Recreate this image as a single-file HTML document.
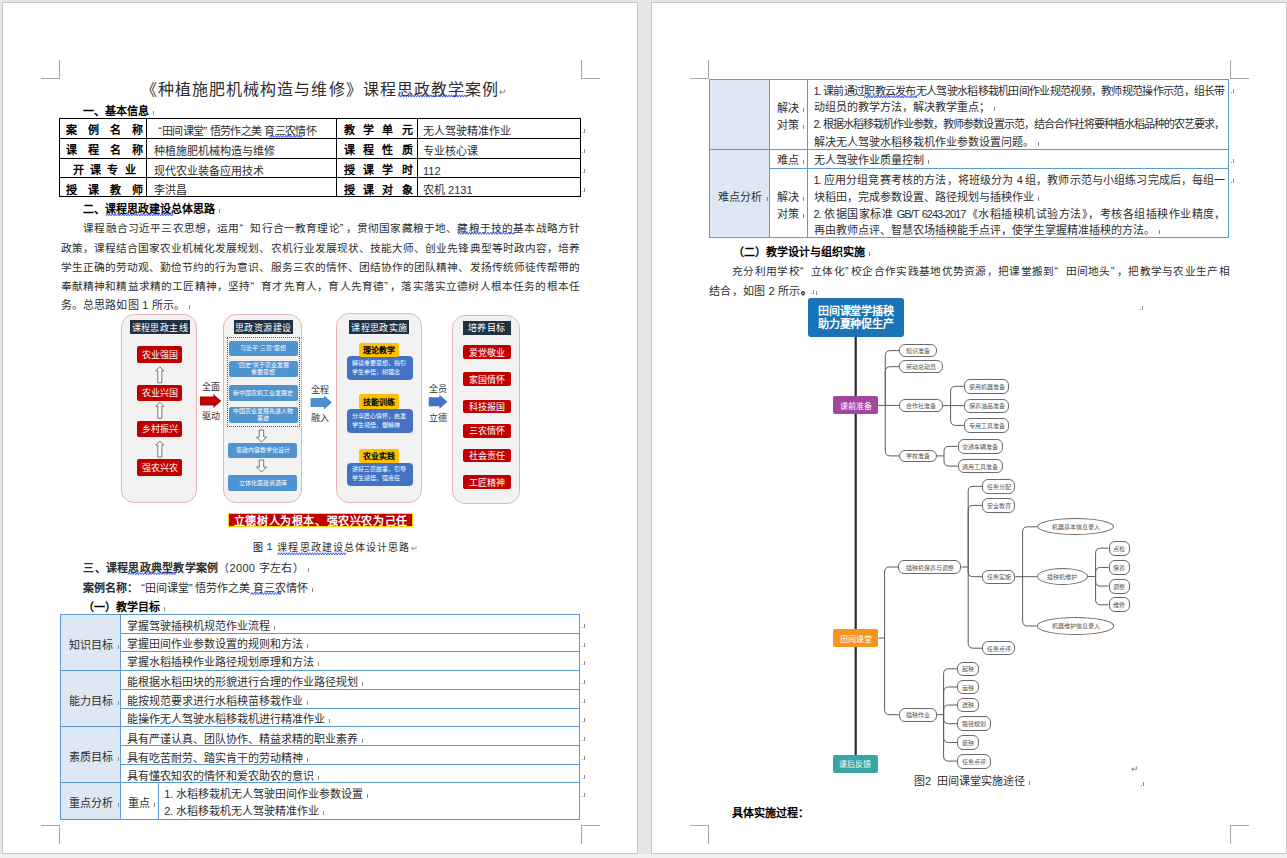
<!DOCTYPE html><html lang="zh-CN"><head><meta charset="utf-8"><style>
html,body{margin:0;padding:0;}
body{width:1287px;height:858px;overflow:hidden;position:relative;background:#e6e6e6;font-family:"Liberation Sans",sans-serif;}
div{box-sizing:border-box;}
.t{position:absolute;white-space:nowrap;}
.pm{display:inline-block;width:3px;height:4px;border-right:1px solid #8c8c8c;margin-left:1px;vertical-align:baseline;}
.qo,.qc{display:inline-block;width:1em;text-indent:0;letter-spacing:0;}
.qo{text-align:right;}
.qc{text-align:left;width:0.55em;}
</style></head><body>
<div style="position:absolute;left:0px;top:854px;width:1287px;height:4px;background:#f0f0f0"></div>
<div style="position:absolute;left:2px;top:2px;width:636px;height:852px;background:#fff;border:1px solid #c6c6c6"></div>
<div style="position:absolute;left:651px;top:2px;width:636px;height:852px;background:#fff;border:1px solid #c6c6c6"></div>
<div style="position:absolute;left:59px;top:60px;width:1px;height:19px;background:#a6a6a6"></div>
<div style="position:absolute;left:41px;top:78px;width:19px;height:1px;background:#a6a6a6"></div>
<div style="position:absolute;left:59px;top:825px;width:1px;height:19px;background:#a6a6a6"></div>
<div style="position:absolute;left:41px;top:825px;width:19px;height:1px;background:#a6a6a6"></div>
<div style="position:absolute;left:581px;top:60px;width:1px;height:19px;background:#a6a6a6"></div>
<div style="position:absolute;left:581px;top:78px;width:19px;height:1px;background:#a6a6a6"></div>
<div style="position:absolute;left:581px;top:825px;width:1px;height:19px;background:#a6a6a6"></div>
<div style="position:absolute;left:581px;top:825px;width:19px;height:1px;background:#a6a6a6"></div>
<div style="position:absolute;left:708px;top:60px;width:1px;height:19px;background:#a6a6a6"></div>
<div style="position:absolute;left:690px;top:78px;width:19px;height:1px;background:#a6a6a6"></div>
<div style="position:absolute;left:708px;top:825px;width:1px;height:19px;background:#a6a6a6"></div>
<div style="position:absolute;left:690px;top:825px;width:19px;height:1px;background:#a6a6a6"></div>
<div style="position:absolute;left:1230px;top:60px;width:1px;height:19px;background:#a6a6a6"></div>
<div style="position:absolute;left:1230px;top:78px;width:19px;height:1px;background:#a6a6a6"></div>
<div style="position:absolute;left:1230px;top:825px;width:1px;height:19px;background:#a6a6a6"></div>
<div style="position:absolute;left:1230px;top:825px;width:19px;height:1px;background:#a6a6a6"></div>
<div class="t " style="left:141px;top:79.7px;font-size:16px;line-height:20px;color:#2e2e2e;letter-spacing:1.05px;">《种植施肥机械构造与维修》课程思政教学案例<span style='font-size:9px;color:#777;letter-spacing:0'>↵</span></div>
<div class="t " style="left:83px;top:103.5px;font-size:11px;line-height:15px;color:#000;font-weight:bold;">一、基本信息<i class="pm"></i></div>
<div style="position:absolute;left:59px;top:118px;width:522px;height:1px;background:#000"></div>
<div style="position:absolute;left:59px;top:138px;width:522px;height:1px;background:#000"></div>
<div style="position:absolute;left:59px;top:158px;width:522px;height:1px;background:#000"></div>
<div style="position:absolute;left:59px;top:177px;width:522px;height:1px;background:#000"></div>
<div style="position:absolute;left:59px;top:196px;width:522px;height:1px;background:#000"></div>
<div style="position:absolute;left:59px;top:118px;width:1px;height:79px;background:#000"></div>
<div style="position:absolute;left:146px;top:118px;width:1px;height:79px;background:#000"></div>
<div style="position:absolute;left:336px;top:118px;width:1px;height:79px;background:#000"></div>
<div style="position:absolute;left:417px;top:118px;width:1px;height:79px;background:#000"></div>
<div style="position:absolute;left:580px;top:118px;width:1px;height:79px;background:#000"></div>
<div class="t " style="left:66px;top:123.1px;font-size:11px;line-height:15px;color:#000;font-weight:bold;width:77px;text-align:justify;text-align-last:justify;">案例名称</div>
<div class="t " style="left:151px;top:123.7px;font-size:11px;line-height:15px;color:#2e2e2e;letter-spacing:-0.6px;"><span class="qo">“</span>田间课堂<span class="qc">”</span>悟劳作之美 育三农情怀</div>
<div class="t " style="left:343.5px;top:123.1px;font-size:11px;line-height:15px;color:#000;font-weight:bold;width:69px;text-align:justify;text-align-last:justify;">教学单元</div>
<div class="t " style="left:423px;top:123.7px;font-size:11px;line-height:15px;color:#2e2e2e;">无人驾驶精准作业</div>
<div class="t " style="left:66px;top:143.4px;font-size:11px;line-height:15px;color:#000;font-weight:bold;width:77px;text-align:justify;text-align-last:justify;">课程名称</div>
<div class="t " style="left:153.5px;top:144.0px;font-size:11px;line-height:15px;color:#2e2e2e;">种植施肥机械构造与维修</div>
<div class="t " style="left:343.5px;top:143.4px;font-size:11px;line-height:15px;color:#000;font-weight:bold;width:69px;text-align:justify;text-align-last:justify;">课程性质</div>
<div class="t " style="left:423px;top:144.0px;font-size:11px;line-height:15px;color:#2e2e2e;">专业核心课</div>
<div class="t " style="left:72.6px;top:163.2px;font-size:11px;line-height:15px;color:#000;font-weight:bold;width:63px;text-align:justify;text-align-last:justify;">开课专业</div>
<div class="t " style="left:153.5px;top:163.8px;font-size:11px;line-height:15px;color:#2e2e2e;">现代农业装备应用技术</div>
<div class="t " style="left:343.5px;top:163.2px;font-size:11px;line-height:15px;color:#000;font-weight:bold;width:69px;text-align:justify;text-align-last:justify;">授课学时</div>
<div class="t " style="left:423px;top:163.8px;font-size:11px;line-height:15px;color:#2e2e2e;">112</div>
<div class="t " style="left:66px;top:182.5px;font-size:11px;line-height:15px;color:#000;font-weight:bold;width:77px;text-align:justify;text-align-last:justify;">授课教师</div>
<div class="t " style="left:153.5px;top:183.1px;font-size:11px;line-height:15px;color:#2e2e2e;">李洪昌</div>
<div class="t " style="left:343.5px;top:182.5px;font-size:11px;line-height:15px;color:#000;font-weight:bold;width:69px;text-align:justify;text-align-last:justify;">授课对象</div>
<div class="t " style="left:423px;top:183.1px;font-size:11px;line-height:15px;color:#2e2e2e;">农机 2131</div>
<div class="t " style="left:83.3px;top:202.0px;font-size:11px;line-height:15px;color:#000;font-weight:bold;">二、课程思政建设总体思路<i class="pm"></i></div>
<div class="t " style="left:83.3px;top:220.7px;font-size:10.7px;line-height:14.7px;color:#2e2e2e;width:496.7px;text-align:justify;text-align-last:justify;">课程融合习近平三农思想，运用<span class="qo">“</span>知行合一教育理论<span class="qc">”</span>，贯彻国家藏粮于地、藏粮于技的基本战略方针</div>
<div class="t " style="left:60.5px;top:240.7px;font-size:10.7px;line-height:14.7px;color:#2e2e2e;width:519.5px;text-align:justify;text-align-last:justify;">政策，课程结合国家农业机械化发展规划、农机行业发展现状、技能大师、创业先锋典型等时政内容，培养</div>
<div class="t " style="left:60.5px;top:259.6px;font-size:10.7px;line-height:14.7px;color:#2e2e2e;width:519.5px;text-align:justify;text-align-last:justify;">学生正确的劳动观、勤俭节约的行为意识、服务三农的情怀、团结协作的团队精神、发扬传统师徒传帮带的</div>
<div class="t " style="left:60.5px;top:278.6px;font-size:10.7px;line-height:14.7px;color:#2e2e2e;width:519.5px;text-align:justify;text-align-last:justify;">奉献精神和精益求精的工匠精神，坚持<span class="qo">“</span>育才先育人，育人先育德<span class="qc">”</span>，落实落实立德树人根本任务的根本任</div>
<div class="t " style="left:60.5px;top:298.2px;font-size:11px;line-height:15px;color:#2e2e2e;letter-spacing:0.2px;">务。总思路如图 1 所示。<i class="pm"></i></div>
<div class="t " style="left:253px;top:541.0px;font-size:10px;line-height:14px;color:#2e2e2e;color:#111">图</div>
<div class="t " style="left:266.5px;top:541.0px;font-size:10px;line-height:14px;color:#2e2e2e;font-family:'Liberation Mono',monospace;">1</div>
<div class="t " style="left:277.4px;top:541.0px;font-size:10px;line-height:14px;color:#2e2e2e;letter-spacing:1.1px;">课程思政建设总体设计思路<span style='font-size:8px;color:#777;letter-spacing:0'>↵</span></div>
<div class="t " style="left:83.3px;top:561.1px;font-size:11px;line-height:15px;color:#2e2e2e;"><b style="letter-spacing:0.25px">三、课程思政典型教学案例</b><span style="letter-spacing:0.3px">（2000 字左右）</span><i class="pm"></i></div>
<div class="t " style="left:83px;top:580.8px;font-size:11px;line-height:15px;color:#2e2e2e;"><b>案例名称<span style="letter-spacing:-4px">：</span></b><span class="qo">“</span>田间课堂<span class="qc">”</span>悟劳作之美 育三农情怀<i class="pm"></i></div>
<div class="t " style="left:83px;top:600.0px;font-size:11px;line-height:15px;color:#000;font-weight:bold;">（一）教学目标<i class="pm"></i></div>
<div style="position:absolute;left:60px;top:614px;width:60px;height:205px;background:#dde8f4"></div>
<div style="position:absolute;left:60px;top:614px;width:520px;height:1px;background:#5b9bd5"></div>
<div style="position:absolute;left:60px;top:670px;width:520px;height:1px;background:#5b9bd5"></div>
<div style="position:absolute;left:60px;top:726px;width:520px;height:1px;background:#5b9bd5"></div>
<div style="position:absolute;left:60px;top:782px;width:520px;height:1px;background:#5b9bd5"></div>
<div style="position:absolute;left:60px;top:819px;width:520px;height:1px;background:#5b9bd5"></div>
<div style="position:absolute;left:120px;top:633px;width:460px;height:1px;background:#5b9bd5"></div>
<div style="position:absolute;left:120px;top:651px;width:460px;height:1px;background:#5b9bd5"></div>
<div style="position:absolute;left:120px;top:689px;width:460px;height:1px;background:#5b9bd5"></div>
<div style="position:absolute;left:120px;top:708px;width:460px;height:1px;background:#5b9bd5"></div>
<div style="position:absolute;left:120px;top:745px;width:460px;height:1px;background:#5b9bd5"></div>
<div style="position:absolute;left:120px;top:764px;width:460px;height:1px;background:#5b9bd5"></div>
<div style="position:absolute;left:60px;top:614px;width:1px;height:206px;background:#5b9bd5"></div>
<div style="position:absolute;left:120px;top:614px;width:1px;height:206px;background:#5b9bd5"></div>
<div style="position:absolute;left:579px;top:614px;width:1px;height:206px;background:#5b9bd5"></div>
<div style="position:absolute;left:158px;top:782px;width:1px;height:38px;background:#5b9bd5"></div>
<div class="t " style="left:68.6px;top:637.9px;font-size:11px;line-height:15px;color:#2e2e2e;width:44.5px;text-align:justify;text-align-last:justify;">知识目标</div>
<div class="t " style="left:114px;top:637.9px;font-size:11px;line-height:15px;color:#2e2e2e;"><i class="pm"></i></div>
<div class="t " style="left:68.6px;top:693.9px;font-size:11px;line-height:15px;color:#2e2e2e;width:44.5px;text-align:justify;text-align-last:justify;">能力目标</div>
<div class="t " style="left:114px;top:693.9px;font-size:11px;line-height:15px;color:#2e2e2e;"><i class="pm"></i></div>
<div class="t " style="left:68.6px;top:750.1px;font-size:11px;line-height:15px;color:#2e2e2e;width:44.5px;text-align:justify;text-align-last:justify;">素质目标</div>
<div class="t " style="left:114px;top:750.1px;font-size:11px;line-height:15px;color:#2e2e2e;"><i class="pm"></i></div>
<div class="t " style="left:68.6px;top:796.3px;font-size:11px;line-height:15px;color:#2e2e2e;width:44.5px;text-align:justify;text-align-last:justify;">重点分析</div>
<div class="t " style="left:114px;top:796.3px;font-size:11px;line-height:15px;color:#2e2e2e;"><i class="pm"></i></div>
<div class="t " style="left:127px;top:618.6px;font-size:11px;line-height:15px;color:#2e2e2e;">掌握驾驶插秧机规范作业流程<i class="pm"></i></div>
<div class="t " style="left:127px;top:637.2px;font-size:11px;line-height:15px;color:#2e2e2e;">掌握田间作业参数设置的规则和方法<i class="pm"></i></div>
<div class="t " style="left:127px;top:655.2px;font-size:11px;line-height:15px;color:#2e2e2e;">掌握水稻插秧作业路径规划原理和方法<i class="pm"></i></div>
<div class="t " style="left:127px;top:674.5px;font-size:11px;line-height:15px;color:#2e2e2e;">能根据水稻田块的形貌进行合理的作业路径规划<i class="pm"></i></div>
<div class="t " style="left:127px;top:693.7px;font-size:11px;line-height:15px;color:#2e2e2e;">能按规范要求进行水稻秧苗移栽作业<i class="pm"></i></div>
<div class="t " style="left:127px;top:712.3px;font-size:11px;line-height:15px;color:#2e2e2e;">能操作无人驾驶水稻移栽机进行精准作业<i class="pm"></i></div>
<div class="t " style="left:127px;top:731.5px;font-size:11px;line-height:15px;color:#2e2e2e;">具有严谨认真、团队协作、精益求精的职业素养<i class="pm"></i></div>
<div class="t " style="left:127px;top:750.5px;font-size:11px;line-height:15px;color:#2e2e2e;">具有吃苦耐劳、踏实肯干的劳动精神<i class="pm"></i></div>
<div class="t " style="left:127px;top:769.2px;font-size:11px;line-height:15px;color:#2e2e2e;">具有懂农知农的情怀和爱农助农的意识<i class="pm"></i></div>
<div class="t " style="left:128px;top:796.3px;font-size:11px;line-height:15px;color:#2e2e2e;">重点<i class="pm"></i></div>
<div class="t " style="left:164.2px;top:787.4px;font-size:11px;line-height:15px;color:#2e2e2e;">1. 水稻移栽机无人驾驶田间作业参数设置<i class="pm"></i></div>
<div class="t " style="left:164.2px;top:803.7px;font-size:11px;line-height:15px;color:#2e2e2e;">2. 水稻移栽机无人驾驶精准作业<i class="pm"></i></div>
<div style="position:absolute;left:709px;top:79px;width:61px;height:159px;background:#dde8f4"></div>
<div style="position:absolute;left:709px;top:79px;width:520px;height:1px;background:#5b9bd5"></div>
<div style="position:absolute;left:709px;top:149px;width:520px;height:1px;background:#5b9bd5"></div>
<div style="position:absolute;left:770px;top:168px;width:459px;height:1px;background:#5b9bd5"></div>
<div style="position:absolute;left:709px;top:237px;width:520px;height:1px;background:#5b9bd5"></div>
<div style="position:absolute;left:709px;top:79px;width:1px;height:159px;background:#5b9bd5"></div>
<div style="position:absolute;left:769px;top:79px;width:1px;height:159px;background:#5b9bd5"></div>
<div style="position:absolute;left:807px;top:79px;width:1px;height:159px;background:#5b9bd5"></div>
<div style="position:absolute;left:1228px;top:79px;width:1px;height:159px;background:#5b9bd5"></div>
<div class="t " style="left:777px;top:101.0px;font-size:11px;line-height:15px;color:#2e2e2e;">解决<i class="pm"></i></div>
<div class="t " style="left:777px;top:118.0px;font-size:11px;line-height:15px;color:#2e2e2e;">对策<i class="pm"></i></div>
<div class="t " style="left:777px;top:153.4px;font-size:11px;line-height:15px;color:#2e2e2e;">难点<i class="pm"></i></div>
<div class="t " style="left:777px;top:190.0px;font-size:11px;line-height:15px;color:#2e2e2e;">解决<i class="pm"></i></div>
<div class="t " style="left:777px;top:206.5px;font-size:11px;line-height:15px;color:#2e2e2e;">对策<i class="pm"></i></div>
<div class="t " style="left:718.2px;top:189.5px;font-size:11px;line-height:15px;color:#2e2e2e;width:43.6px;text-align:justify;text-align-last:justify;">难点分析</div>
<div class="t " style="left:763px;top:189.5px;font-size:11px;line-height:15px;color:#2e2e2e;"><i class="pm"></i></div>
<div class="t " style="left:813.5px;top:83.9px;font-size:11px;line-height:15px;color:#2e2e2e;width:411px;text-align:justify;text-align-last:justify;letter-spacing:-1px;">1. 课前通过职教云发布无人驾驶水稻移栽机田间作业规范视频，教师规范操作示范，组长带</div>
<div class="t " style="left:813.5px;top:100.3px;font-size:11px;line-height:15px;color:#2e2e2e;">动组员的教学方法，解决教学重点；<i class="pm"></i></div>
<div class="t " style="left:813.5px;top:117.3px;font-size:11px;line-height:15px;color:#2e2e2e;width:411px;text-align:justify;text-align-last:justify;letter-spacing:-1px;">2. 根据水稻移栽机作业参数，教师参数设置示范，结合合作社将要种植水稻品种的农艺要求，</div>
<div class="t " style="left:813.5px;top:134.8px;font-size:11px;line-height:15px;color:#2e2e2e;">解决无人驾驶水稻移栽机作业参数设置问题。<i class="pm"></i></div>
<div class="t " style="left:813.5px;top:153.4px;font-size:11px;line-height:15px;color:#2e2e2e;">无人驾驶作业质量控制<i class="pm"></i></div>
<div class="t " style="left:813.5px;top:173.2px;font-size:11px;line-height:15px;color:#2e2e2e;width:411px;text-align:justify;text-align-last:justify;letter-spacing:-1px;">1. 应用分组竞赛考核的方法，将班级分为 4 组，教师示范与小组练习完成后，每组一</div>
<div class="t " style="left:813.5px;top:189.5px;font-size:11px;line-height:15px;color:#2e2e2e;">块稻田，完成参数设置、路径规划与插秧作业<i class="pm"></i></div>
<div class="t " style="left:813.5px;top:206.5px;font-size:11px;line-height:15px;color:#2e2e2e;width:411px;text-align:justify;text-align-last:justify;letter-spacing:-1px;">2. 依据国家标准 GB/T 6243-2017《水稻插秧机试验方法》，考核各组插秧作业精度，</div>
<div class="t " style="left:813.5px;top:223.3px;font-size:11px;line-height:15px;color:#2e2e2e;">再由教师点评、智慧农场插秧能手点评，使学生掌握精准插秧的方法。<i class="pm"></i></div>
<div class="t " style="left:733px;top:245.0px;font-size:11px;line-height:15px;color:#000;font-weight:bold;">（二）教学设计与组织实施<i class="pm"></i></div>
<div class="t " style="left:732.2px;top:264.4px;font-size:10.7px;line-height:14.7px;color:#2e2e2e;width:497.5px;text-align:justify;text-align-last:justify;">充分利用学校<span class="qo">“</span>立体化<span class="qc">”</span>校企合作实践基地优势资源，把课堂搬到<span class="qo">“</span>田间地头<span class="qc">”</span>，把教学与农业生产相</div>
<div class="t " style="left:709.3px;top:283.5px;font-size:11px;line-height:15px;color:#2e2e2e;letter-spacing:0.2px;">结合，如图 2 所示。<i class="pm"></i></div>
<div class="t " style="left:914px;top:773.7px;font-size:11px;line-height:15px;color:#2e2e2e;">图2 &nbsp;田间课堂实施途径<i class="pm"></i></div>
<div class="t " style="left:732px;top:805.5px;font-size:11px;line-height:15px;color:#000;font-weight:bold;">具体实施过程：</div>
<div style="position:absolute;left:121px;top:313.7px;width:76px;height:189.60000000000002px;background:#f2f2f2;border-radius:13px;border:1px solid #e9b4b4;display:flex;align-items:center;justify-content:center;text-align:center;font-size:8px;color:#fff;"></div>
<div style="position:absolute;left:223px;top:313.7px;width:79px;height:189.60000000000002px;background:#f2f2f2;border-radius:13px;border:1px solid #e9b4b4;display:flex;align-items:center;justify-content:center;text-align:center;font-size:8px;color:#fff;"></div>
<div style="position:absolute;left:336.4px;top:313px;width:85.90000000000003px;height:189.8px;background:#f2f2f2;border-radius:13px;border:1px solid #e9b4b4;display:flex;align-items:center;justify-content:center;text-align:center;font-size:8px;color:#fff;"></div>
<div style="position:absolute;left:452.3px;top:315px;width:67.40000000000003px;height:188.60000000000002px;background:#f2f2f2;border-radius:13px;border:1px solid #e9b4b4;display:flex;align-items:center;justify-content:center;text-align:center;font-size:8px;color:#fff;"></div>
<div style="position:absolute;left:129.6px;top:320.3px;width:60.400000000000006px;height:13.699999999999989px;background:#1f3142;border-radius:0px;display:flex;align-items:center;justify-content:center;text-align:center;font-size:9px;color:#fff;white-space:nowrap;letter-spacing:0.4px;">课程思政主线</div>
<div style="position:absolute;left:233.6px;top:320.3px;width:59.400000000000006px;height:13.699999999999989px;background:#1f3142;border-radius:0px;display:flex;align-items:center;justify-content:center;text-align:center;font-size:9px;color:#fff;white-space:nowrap;letter-spacing:0.4px;">思政资源建设</div>
<div style="position:absolute;left:349.2px;top:320.3px;width:60.30000000000001px;height:14.099999999999966px;background:#1f3142;border-radius:0px;display:flex;align-items:center;justify-content:center;text-align:center;font-size:9px;color:#fff;white-space:nowrap;letter-spacing:0.4px;">课程思政实施</div>
<div style="position:absolute;left:462.6px;top:320.8px;width:48.19999999999999px;height:13.800000000000011px;background:#1f3142;border-radius:0px;display:flex;align-items:center;justify-content:center;text-align:center;font-size:9px;color:#fff;white-space:nowrap;letter-spacing:0.4px;">培养目标</div>
<div style="position:absolute;left:137.4px;top:346.2px;width:44.79999999999998px;height:16.400000000000034px;background:#c00000;border-radius:2px;display:flex;align-items:center;justify-content:center;text-align:center;font-size:9px;color:#fff;">农业强国</div>
<div style="position:absolute;left:137.4px;top:384.6px;width:44.79999999999998px;height:16.399999999999977px;background:#c00000;border-radius:2px;display:flex;align-items:center;justify-content:center;text-align:center;font-size:9px;color:#fff;">农业兴国</div>
<div style="position:absolute;left:137.4px;top:420.6px;width:44.79999999999998px;height:16.099999999999966px;background:#c00000;border-radius:2px;display:flex;align-items:center;justify-content:center;text-align:center;font-size:9px;color:#fff;">乡村振兴</div>
<div style="position:absolute;left:137.4px;top:459.3px;width:44.79999999999998px;height:16.599999999999966px;background:#c00000;border-radius:2px;display:flex;align-items:center;justify-content:center;text-align:center;font-size:9px;color:#fff;">强农兴农</div>
<div style="position:absolute;left:462.6px;top:345.4px;width:48.19999999999999px;height:13.300000000000011px;background:#c00000;border-radius:2px;display:flex;align-items:center;justify-content:center;text-align:center;font-size:9px;color:#fff;">爱党敬业</div>
<div style="position:absolute;left:462.6px;top:372.3px;width:48.19999999999999px;height:13.899999999999977px;background:#c00000;border-radius:2px;display:flex;align-items:center;justify-content:center;text-align:center;font-size:9px;color:#fff;">家国情怀</div>
<div style="position:absolute;left:462.6px;top:399.7px;width:48.19999999999999px;height:13.300000000000011px;background:#c00000;border-radius:2px;display:flex;align-items:center;justify-content:center;text-align:center;font-size:9px;color:#fff;">科技报国</div>
<div style="position:absolute;left:462.6px;top:424px;width:48.19999999999999px;height:13.699999999999989px;background:#c00000;border-radius:2px;display:flex;align-items:center;justify-content:center;text-align:center;font-size:9px;color:#fff;">三农情怀</div>
<div style="position:absolute;left:462.6px;top:448.5px;width:48.19999999999999px;height:13.300000000000011px;background:#c00000;border-radius:2px;display:flex;align-items:center;justify-content:center;text-align:center;font-size:9px;color:#fff;">社会责任</div>
<div style="position:absolute;left:462.6px;top:475.4px;width:48.19999999999999px;height:13.600000000000023px;background:#c00000;border-radius:2px;display:flex;align-items:center;justify-content:center;text-align:center;font-size:9px;color:#fff;">工匠精神</div>
<div style="position:absolute;left:227px;top:337.4px;width:73px;height:90px;border:1px dotted #555"></div>
<div style="position:absolute;left:228.7px;top:340.6px;width:69.19999999999999px;height:15.199999999999989px;background:#4f93cf;border-radius:2px;display:flex;align-items:center;justify-content:center;text-align:center;font-size:6px;color:#fff;line-height:7px;">习近平“三农”思想</div>
<div style="position:absolute;left:228.7px;top:360.9px;width:69.19999999999999px;height:15.700000000000045px;background:#4f93cf;border-radius:2px;display:flex;align-items:center;justify-content:center;text-align:center;font-size:6px;color:#fff;line-height:7px;">“四史”关于农业发展<br>重要思想</div>
<div style="position:absolute;left:228.7px;top:385.1px;width:69.19999999999999px;height:15.899999999999977px;background:#4f93cf;border-radius:2px;display:flex;align-items:center;justify-content:center;text-align:center;font-size:6px;color:#fff;line-height:7px;">新中国农机工业发展史</div>
<div style="position:absolute;left:228.7px;top:407.4px;width:69.19999999999999px;height:15.600000000000023px;background:#4f93cf;border-radius:2px;display:flex;align-items:center;justify-content:center;text-align:center;font-size:6px;color:#fff;line-height:7px;">中国农业发展先进人物<br>事迹</div>
<div style="position:absolute;left:228px;top:443.4px;width:69.19999999999999px;height:15.100000000000023px;background:#4f93cf;border-radius:2px;display:flex;align-items:center;justify-content:center;text-align:center;font-size:6px;color:#fff;line-height:7px;">思政内容教学化设计</div>
<div style="position:absolute;left:228px;top:475.2px;width:69.19999999999999px;height:15.800000000000011px;background:#4f93cf;border-radius:2px;display:flex;align-items:center;justify-content:center;text-align:center;font-size:6px;color:#fff;line-height:7px;">立体化思政资源库</div>
<div style="position:absolute;left:347.4px;top:356.2px;width:65.90000000000003px;height:23.5px;background:#4472c4;border-radius:4px;display:flex;align-items:center;justify-content:center;text-align:center;font-size:6px;color:#fff;line-height:9px;justify-content:flex-start;text-align:left;padding-left:5px;">解读重要思想，指引<br>学生参悟，树理念</div>
<div style="position:absolute;left:359px;top:342.8px;width:39.60000000000002px;height:13.899999999999977px;background:#ffc000;border-radius:2px;display:flex;align-items:center;justify-content:center;text-align:center;font-size:8px;color:#000;font-weight:bold;">理论教学</div>
<div style="position:absolute;left:347.4px;top:408.7px;width:65.90000000000003px;height:23.900000000000034px;background:#4472c4;border-radius:4px;display:flex;align-items:center;justify-content:center;text-align:center;font-size:6px;color:#fff;line-height:9px;justify-content:flex-start;text-align:left;padding-left:5px;">分享匠心情怀，启发<br>学生领悟，塑精神</div>
<div style="position:absolute;left:359px;top:394px;width:39.60000000000002px;height:14.5px;background:#ffc000;border-radius:2px;display:flex;align-items:center;justify-content:center;text-align:center;font-size:8px;color:#000;font-weight:bold;">技能训练</div>
<div style="position:absolute;left:347.4px;top:462.6px;width:65.90000000000003px;height:23.799999999999955px;background:#4472c4;border-radius:4px;display:flex;align-items:center;justify-content:center;text-align:center;font-size:6px;color:#fff;line-height:9px;justify-content:flex-start;text-align:left;padding-left:5px;">讲好三农故事，引导<br>学生感悟，强责任</div>
<div style="position:absolute;left:359px;top:448.5px;width:39.60000000000002px;height:14.300000000000011px;background:#ffc000;border-radius:2px;display:flex;align-items:center;justify-content:center;text-align:center;font-size:8px;color:#000;font-weight:bold;">农业实践</div>
<div class="t " style="left:201.7px;top:381.0px;font-size:9px;line-height:12px;color:#2e2e2e;">全面</div>
<div class="t " style="left:201.7px;top:409.7px;font-size:9px;line-height:12px;color:#2e2e2e;">驱动</div>
<div class="t " style="left:311px;top:383.5px;font-size:9px;line-height:12px;color:#2e2e2e;">全程</div>
<div class="t " style="left:311px;top:411.7px;font-size:9px;line-height:12px;color:#2e2e2e;">融入</div>
<div class="t " style="left:428.7px;top:383.0px;font-size:9px;line-height:12px;color:#2e2e2e;">全员</div>
<div class="t " style="left:428.7px;top:411.7px;font-size:9px;line-height:12px;color:#2e2e2e;">立德</div>
<svg style="position:absolute;left:0;top:0" width="1287" height="858">
<path d="M200,396.5 H213.3 V394.0 L221.3,401 L213.3,408.0 V405.5 H200 Z" fill="#c00000"/>
<path d="M310.6,398.0 H324 V395.5 L332,402.5 L324,409.5 V407.0 H310.6 Z" fill="#4a90d0"/>
<path d="M428.7,397.3 H439.4 V394.8 L447.4,401.8 L439.4,408.8 V406.3 H428.7 Z" fill="#4472c4"/>
<path d="M159.8,366.8 L163.8,370.8 H161.8 V382.8 H157.8 V370.8 H155.8 Z" fill="#fff" stroke="#555" stroke-width="0.8"/>
<path d="M159.8,402.3 L163.8,406.3 H161.8 V418.3 H157.8 V406.3 H155.8 Z" fill="#fff" stroke="#555" stroke-width="0.8"/>
<path d="M159.8,441.0 L163.8,445.0 H161.8 V457.0 H157.8 V445.0 H155.8 Z" fill="#fff" stroke="#555" stroke-width="0.8"/>
<path d="M261.5,442.0 L266.5,437.0 H263.7 V430.0 H259.3 V437.0 H256.5 Z" fill="#fff" stroke="#555" stroke-width="0.8"/>
<path d="M261.5,472.0 L266.5,467.0 H263.7 V460.0 H259.3 V467.0 H256.5 Z" fill="#fff" stroke="#555" stroke-width="0.8"/>
</svg>
<div style="position:absolute;left:228.3px;top:512.8px;width:185.09999999999997px;height:14.600000000000023px;background:#c00000;border-radius:0px;border:1px solid #ffd800;display:flex;align-items:center;justify-content:center;text-align:center;font-size:11px;color:#fff;font-weight:bold;letter-spacing:0.6px;white-space:nowrap;">立德树人为根本、强农兴农为己任</div>
<svg style="position:absolute;left:0;top:0" width="1287" height="858">
<g fill="none" stroke="#5a5a5a" stroke-width="1">
<path d="M878,405.4 H885.3 M885.3,405.4 V355.6 Q885.3,350.6 890.3,350.6 H899 M885.3,405.4 V371.7 Q885.3,366.7 890.3,366.7 H899 M885.3,405.4 H899 M885.3,405.4 V450.9 Q885.3,455.9 890.3,455.9 H899 "/>
<path d="M942.9,405.6 H950.6 M950.6,405.6 V391.3 Q950.6,386.3 955.6,386.3 H963.9 M950.6,405.6 H963.9 M950.6,405.6 V420.4 Q950.6,425.4 955.6,425.4 H963.9 "/>
<path d="M936.9,455.9 H944 M944,455.9 V451.3 Q944,446.3 949,446.3 H957.7 M944,455.9 V461.1 Q944,466.1 949,466.1 H957.7 "/>
<path d="M878.5,638 H884.6 M884.6,638 V572 Q884.6,567 889.6,567 H898.2 M884.6,638 V709.7 Q884.6,714.7 889.6,714.7 H898.7 "/>
<path d="M961.5,567 H968.2 M968.2,567 V491.3 Q968.2,486.3 973.2,486.3 H982.3 M968.2,567 V510.4 Q968.2,505.4 973.2,505.4 H982.3 M968.2,567 V571.7 Q968.2,576.7 973.2,576.7 H982.3 M968.2,567 V643.2 Q968.2,648.2 973.2,648.2 H982.3 "/>
<path d="M1015.4,576.7 H1022.6 M1022.6,576.7 V531.8 Q1022.6,526.8 1027.6,526.8 H1036.7 M1022.6,576.7 H1036.7 M1022.6,576.7 V621 Q1022.6,626 1027.6,626 H1036.7 "/>
<path d="M1088,576.5 H1095.6 M1095.6,576.5 V553.2 Q1095.6,548.2 1100.6,548.2 H1108.5 M1095.6,576.5 V572.4 Q1095.6,567.4 1100.6,567.4 H1108.5 M1095.6,576.5 V581.1 Q1095.6,586.1 1100.6,586.1 H1108.5 M1095.6,576.5 V599.8 Q1095.6,604.8 1100.6,604.8 H1108.5 "/>
<path d="M937.2,714.7 H943.6 M943.6,714.7 V673.8 Q943.6,668.8 948.6,668.8 H957.2 M943.6,714.7 V692 Q943.6,687 948.6,687 H957.2 M943.6,714.7 V710 Q943.6,705 948.6,705 H957.2 M943.6,714.7 V718.7 Q943.6,723.7 948.6,723.7 H957.2 M943.6,714.7 V737.5 Q943.6,742.5 948.6,742.5 H957.2 M943.6,714.7 V756.1 Q943.6,761.1 948.6,761.1 H957.2 "/>
</g>
<line x1="855.7" y1="337" x2="855.7" y2="755" stroke="#2b2b2b" stroke-width="2.2"/>
</svg>
<div style="position:absolute;left:807.8px;top:298.4px;width:95.90000000000009px;height:38.60000000000002px;background:#1973b5;border-radius:3px;display:flex;align-items:center;justify-content:center;text-align:center;font-size:11px;color:#fff;line-height:13px;font-weight:bold;letter-spacing:-0.2px;padding-top:1px;">田间课堂学插秧<br>助力夏种促生产</div>
<div style="position:absolute;left:833.2px;top:396.3px;width:44.799999999999955px;height:18.19999999999999px;background:#a1479e;border-radius:2px;display:flex;align-items:center;justify-content:center;text-align:center;font-size:8px;color:#fff;">课前准备</div>
<div style="position:absolute;left:832.8px;top:629px;width:45.700000000000045px;height:18px;background:#f7941d;border-radius:2px;display:flex;align-items:center;justify-content:center;text-align:center;font-size:8px;color:#fff;">田间课堂</div>
<div style="position:absolute;left:832.8px;top:754.9px;width:45.40000000000009px;height:17.899999999999977px;background:#37a6a6;border-radius:2px;display:flex;align-items:center;justify-content:center;text-align:center;font-size:8px;color:#fff;">课后反馈</div>
<div style="position:absolute;left:899px;top:344.3px;width:37.89999999999998px;height:12.599999999999966px;background:#fff;border:1px solid #6a6a6a;border-radius:6px;display:flex;align-items:center;justify-content:center;font-size:6px;color:#555;white-space:nowrap;">知识准备</div>
<div style="position:absolute;left:899px;top:360.4px;width:43.89999999999998px;height:12.600000000000023px;background:#fff;border:1px solid #6a6a6a;border-radius:6px;display:flex;align-items:center;justify-content:center;font-size:6px;color:#555;white-space:nowrap;">劳动总动员</div>
<div style="position:absolute;left:899px;top:399px;width:43.89999999999998px;height:13.300000000000011px;background:#fff;border:1px solid #6a6a6a;border-radius:6px;display:flex;align-items:center;justify-content:center;font-size:6px;color:#555;white-space:nowrap;">合作社准备</div>
<div style="position:absolute;left:899px;top:449.5px;width:37.89999999999998px;height:12.800000000000011px;background:#fff;border:1px solid #6a6a6a;border-radius:6px;display:flex;align-items:center;justify-content:center;font-size:6px;color:#555;white-space:nowrap;">学校准备</div>
<div style="position:absolute;left:963.9px;top:379px;width:45.39999999999998px;height:14.699999999999989px;background:#fff;border:1px solid #6a6a6a;border-radius:6px;display:flex;align-items:center;justify-content:center;font-size:6px;color:#555;white-space:nowrap;">使用机器准备</div>
<div style="position:absolute;left:963.9px;top:398.5px;width:45.39999999999998px;height:14.5px;background:#fff;border:1px solid #6a6a6a;border-radius:6px;display:flex;align-items:center;justify-content:center;font-size:6px;color:#555;white-space:nowrap;">保养油品准备</div>
<div style="position:absolute;left:963.9px;top:418px;width:45.39999999999998px;height:14.899999999999977px;background:#fff;border:1px solid #6a6a6a;border-radius:6px;display:flex;align-items:center;justify-content:center;font-size:6px;color:#555;white-space:nowrap;">专用工具准备</div>
<div style="position:absolute;left:957.7px;top:438.8px;width:45.59999999999991px;height:15.099999999999966px;background:#fff;border:1px solid #6a6a6a;border-radius:6px;display:flex;align-items:center;justify-content:center;font-size:6px;color:#555;white-space:nowrap;">交通车辆准备</div>
<div style="position:absolute;left:957.7px;top:458.8px;width:45.59999999999991px;height:14.599999999999966px;background:#fff;border:1px solid #6a6a6a;border-radius:6px;display:flex;align-items:center;justify-content:center;font-size:6px;color:#555;white-space:nowrap;">通用工具准备</div>
<div style="position:absolute;left:898.2px;top:560.3px;width:63.299999999999955px;height:13.5px;background:#fff;border:1px solid #6a6a6a;border-radius:6px;display:flex;align-items:center;justify-content:center;font-size:6px;color:#555;white-space:nowrap;">插秧机保养与调整</div>
<div style="position:absolute;left:982.3px;top:479px;width:33.10000000000002px;height:14.600000000000023px;background:#fff;border:1px solid #6a6a6a;border-radius:6px;display:flex;align-items:center;justify-content:center;font-size:6px;color:#555;white-space:nowrap;">任务分配</div>
<div style="position:absolute;left:982.3px;top:497.7px;width:33.10000000000002px;height:15.400000000000034px;background:#fff;border:1px solid #6a6a6a;border-radius:6px;display:flex;align-items:center;justify-content:center;font-size:6px;color:#555;white-space:nowrap;">安全教育</div>
<div style="position:absolute;left:982.3px;top:569.5px;width:33.10000000000002px;height:14.5px;background:#fff;border:1px solid #6a6a6a;border-radius:6px;display:flex;align-items:center;justify-content:center;font-size:6px;color:#555;white-space:nowrap;">任务实施</div>
<div style="position:absolute;left:982.3px;top:641.3px;width:33.10000000000002px;height:13.800000000000068px;background:#fff;border:1px solid #6a6a6a;border-radius:6px;display:flex;align-items:center;justify-content:center;font-size:6px;color:#555;white-space:nowrap;">任务点评</div>
<div style="position:absolute;left:1036.7px;top:518.2px;width:77.70000000000005px;height:17.199999999999932px;background:#fff;border:1px solid #6a6a6a;border-radius:50%;display:flex;align-items:center;justify-content:center;font-size:6px;color:#555;white-space:nowrap;">机器基本信息录入</div>
<div style="position:absolute;left:1036.7px;top:568px;width:51.299999999999955px;height:16.899999999999977px;background:#fff;border:1px solid #6a6a6a;border-radius:50%;display:flex;align-items:center;justify-content:center;font-size:6px;color:#555;white-space:nowrap;">插秧机维护</div>
<div style="position:absolute;left:1036.7px;top:617.4px;width:77.70000000000005px;height:17.200000000000045px;background:#fff;border:1px solid #6a6a6a;border-radius:50%;display:flex;align-items:center;justify-content:center;font-size:6px;color:#555;white-space:nowrap;">机器维护信息录入</div>
<div style="position:absolute;left:1108.5px;top:540.5px;width:21.200000000000045px;height:15.399999999999977px;background:#fff;border:1px solid #6a6a6a;border-radius:6px;display:flex;align-items:center;justify-content:center;font-size:6px;color:#555;white-space:nowrap;">点检</div>
<div style="position:absolute;left:1108.5px;top:559.7px;width:21.200000000000045px;height:15.399999999999977px;background:#fff;border:1px solid #6a6a6a;border-radius:6px;display:flex;align-items:center;justify-content:center;font-size:6px;color:#555;white-space:nowrap;">保养</div>
<div style="position:absolute;left:1108.5px;top:578.5px;width:21.200000000000045px;height:15.299999999999955px;background:#fff;border:1px solid #6a6a6a;border-radius:6px;display:flex;align-items:center;justify-content:center;font-size:6px;color:#555;white-space:nowrap;">调整</div>
<div style="position:absolute;left:1108.5px;top:597.4px;width:21.200000000000045px;height:14.899999999999977px;background:#fff;border:1px solid #6a6a6a;border-radius:6px;display:flex;align-items:center;justify-content:center;font-size:6px;color:#555;white-space:nowrap;">维修</div>
<div style="position:absolute;left:898.7px;top:708px;width:38.5px;height:13.5px;background:#fff;border:1px solid #6a6a6a;border-radius:6px;display:flex;align-items:center;justify-content:center;font-size:6px;color:#555;white-space:nowrap;">插秧作业</div>
<div style="position:absolute;left:957.2px;top:661.8px;width:21.5px;height:14.100000000000023px;background:#fff;border:1px solid #6a6a6a;border-radius:6px;display:flex;align-items:center;justify-content:center;font-size:6px;color:#555;white-space:nowrap;">起秧</div>
<div style="position:absolute;left:957.2px;top:679.7px;width:21.5px;height:14.699999999999932px;background:#fff;border:1px solid #6a6a6a;border-radius:6px;display:flex;align-items:center;justify-content:center;font-size:6px;color:#555;white-space:nowrap;">运秧</div>
<div style="position:absolute;left:957.2px;top:697.7px;width:21.5px;height:14.599999999999909px;background:#fff;border:1px solid #6a6a6a;border-radius:6px;display:flex;align-items:center;justify-content:center;font-size:6px;color:#555;white-space:nowrap;">送秧</div>
<div style="position:absolute;left:957.2px;top:716.4px;width:33.799999999999955px;height:14.600000000000023px;background:#fff;border:1px solid #6a6a6a;border-radius:6px;display:flex;align-items:center;justify-content:center;font-size:6px;color:#555;white-space:nowrap;">路径规划</div>
<div style="position:absolute;left:957.2px;top:735.4px;width:21.5px;height:14.300000000000068px;background:#fff;border:1px solid #6a6a6a;border-radius:6px;display:flex;align-items:center;justify-content:center;font-size:6px;color:#555;white-space:nowrap;">装秧</div>
<div style="position:absolute;left:957.2px;top:753.6px;width:33.799999999999955px;height:15.100000000000023px;background:#fff;border:1px solid #6a6a6a;border-radius:6px;display:flex;align-items:center;justify-content:center;font-size:6px;color:#555;white-space:nowrap;">任务点评</div>
<svg style="position:absolute;left:0;top:0" width="1287" height="858"><g fill="none" stroke="#2b4cff" stroke-width="0.9">
<path d="M398.4,97.1 L399.7,94.9 L401.0,97.1 L402.3,94.9 L403.6,97.1 L404.9,94.9 L406.2,97.1 L407.5,94.9 L408.8,97.1 L410.1,94.9 L411.4,97.1 L412.7,94.9 L414.0,97.1 L415.3,94.9 L416.6,97.1 L417.9,94.9 L419.2,97.1 L420.5,94.9 L421.8,97.1 L423.1,94.9 L424.4,97.1 L425.7,94.9 L427.0,97.1 L428.3,94.9 L429.6,97.1 L430.9,94.9 L432.2,97.1 L433.5,94.9 L434.8,97.1 L436.1,94.9 L437.4,97.1 L438.7,94.9 L440.0,97.1 L441.3,94.9 L442.6,97.1 L443.9,94.9 L445.2,97.1 L446.5,94.9 L447.8,97.1 L449.1,94.9 L450.4,97.1 L451.7,94.9 L453.0,97.1 L454.3,94.9 L455.6,97.1 L456.9,94.9 L458.2,97.1 L459.5,94.9 L460.8,97.1 L462.1,94.9 L463.4,97.1 L464.7,94.9 L466.0,97.1"/>
<path d="M269,137.6 L270.3,135.4 L271.6,137.6 L272.9,135.4 L274.2,137.6 L275.5,135.4 L276.8,137.6 L278.1,135.4 L279.4,137.6 L280.7,135.4 L282.0,137.6 L283.3,135.4 L284.6,137.6 L285.9,135.4 L287.2,137.6 L288.5,135.4 L289.8,137.6 L291.1,135.4 L292.4,137.6 L293.7,135.4 L295.0,137.6 L296.3,135.4 L297.6,137.6 L298.9,135.4 L300.2,137.6 L301.5,135.4 L302.0,137.6"/>
<path d="M106,215.9 L107.3,213.7 L108.6,215.9 L109.9,213.7 L111.2,215.9 L112.5,213.7 L113.8,215.9 L115.1,213.7 L116.4,215.9 L117.7,213.7 L119.0,215.9 L120.3,213.7 L121.6,215.9 L122.9,213.7 L124.2,215.9 L125.5,213.7 L126.8,215.9 L128.1,213.7 L129.4,215.9 L130.7,213.7 L132.0,215.9 L133.3,213.7 L134.6,215.9 L135.9,213.7 L137.2,215.9 L138.5,213.7 L139.8,215.9 L141.1,213.7 L142.4,215.9 L143.7,213.7 L145.0,215.9 L146.3,213.7 L147.6,215.9 L148.9,213.7 L150.2,215.9 L151.5,213.7 L152.8,215.9 L154.1,213.7 L155.4,215.9 L156.7,213.7 L158.0,215.9 L159.3,213.7 L160.6,215.9 L161.9,213.7 L163.2,215.9 L164.5,213.7 L165.8,215.9 L167.1,213.7 L168.4,215.9 L169.7,213.7 L171.0,215.9 L172.3,213.7 L173.0,215.9"/>
<path d="M458,234.4 L459.3,232.2 L460.6,234.4 L461.9,232.2 L463.2,234.4 L464.5,232.2 L465.8,234.4 L467.1,232.2 L468.4,234.4 L469.7,232.2 L471.0,234.4 L472.3,232.2 L473.6,234.4 L474.9,232.2 L476.2,234.4 L477.5,232.2 L478.8,234.4 L480.1,232.2 L481.4,234.4 L482.7,232.2 L484.0,234.4 L485.3,232.2 L486.6,234.4 L487.9,232.2 L489.2,234.4 L490.5,232.2 L491.8,234.4 L493.1,232.2 L494.4,234.4 L495.7,232.2 L497.0,234.4 L498.3,232.2 L499.6,234.4 L500.9,232.2 L502.2,234.4 L503.5,232.2 L504.8,234.4 L506.1,232.2 L507.4,234.4 L508.7,232.2 L510.0,234.4 L511.3,232.2 L512.6,234.4 L513.9,232.2 L514.2,234.4"/>
<path d="M128,574.7 L129.3,572.5 L130.6,574.7 L131.9,572.5 L133.2,574.7 L134.5,572.5 L135.8,574.7 L137.1,572.5 L138.4,574.7 L139.7,572.5 L141.0,574.7 L142.3,572.5 L143.6,574.7 L144.9,572.5 L146.2,574.7 L147.5,572.5 L148.8,574.7 L150.1,572.5 L151.4,574.7 L152.7,572.5 L154.0,574.7 L155.3,572.5 L156.6,574.7 L157.9,572.5 L159.2,574.7 L160.5,572.5 L161.8,574.7 L163.1,572.5 L164.4,574.7 L165.7,572.5 L167.0,574.7 L168.3,572.5 L169.6,574.7 L170.9,572.5 L172.2,574.7 L173.5,572.5 L174.8,574.7 L175.0,572.5"/>
<path d="M250.5,594.6 L251.8,592.4 L253.1,594.6 L254.4,592.4 L255.7,594.6 L257.0,592.4 L258.3,594.6 L259.6,592.4 L260.9,594.6 L262.2,592.4 L263.5,594.6 L264.8,592.4 L266.1,594.6 L267.4,592.4 L268.7,594.6 L270.0,592.4 L271.3,594.6 L272.6,592.4 L273.9,594.6 L275.2,592.4 L276.5,594.6 L277.8,592.4 L279.1,594.6 L280.4,592.4 L280.8,594.6"/>
<path d="M277.4,554.9 L278.7,552.7 L280.0,554.9 L281.3,552.7 L282.6,554.9 L283.9,552.7 L285.2,554.9 L286.5,552.7 L287.8,554.9 L289.1,552.7 L290.4,554.9 L291.7,552.7 L293.0,554.9 L294.3,552.7 L295.6,554.9 L296.9,552.7 L298.2,554.9 L299.5,552.7 L300.8,554.9 L302.1,552.7 L303.4,554.9 L304.7,552.7 L306.0,554.9 L307.3,552.7 L308.6,554.9 L309.9,552.7 L311.2,554.9 L312.5,552.7 L313.8,554.9 L315.1,552.7 L316.4,554.9 L317.7,552.7 L319.0,554.9 L320.3,552.7 L321.6,554.9 L322.9,552.7 L324.2,554.9 L325.5,552.7 L326.8,554.9 L328.1,552.7 L329.4,554.9 L330.7,552.7 L332.0,554.9 L333.3,552.7 L334.6,554.9 L335.9,552.7 L337.2,554.9 L338.5,552.7 L339.8,554.9 L341.1,552.7 L342.4,554.9 L343.7,552.7 L345.0,554.9 L345.4,552.7"/>
<path d="M864.3,97.89999999999999 L865.6,95.7 L866.9,97.9 L868.2,95.7 L869.5,97.9 L870.8,95.7 L872.1,97.9 L873.4,95.7 L874.7,97.9 L876.0,95.7 L877.3,97.9 L878.6,95.7 L879.9,97.9 L881.2,95.7 L882.5,97.9 L883.8,95.7 L885.1,97.9 L886.4,95.7 L887.7,97.9 L889.0,95.7 L890.3,97.9 L891.6,95.7 L892.9,97.9 L894.2,95.7 L895.5,97.9 L896.8,95.7 L898.1,97.9 L899.4,95.7 L900.7,97.9 L902.0,95.7 L903.3,97.9 L904.6,95.7 L905.9,97.9 L907.2,95.7 L908.5,97.9 L909.8,95.7 L911.1,97.9 L912.4,95.7 L913.7,97.9 L915.0,95.7 L916.3,97.9 L916.8,95.7"/>
</g><g fill="none" stroke="#3355dd" stroke-width="0.8" stroke-dasharray="1,1.5"><path d="M150,779.7 H187.5"/></g></svg>
<div style="position:absolute;left:582px;top:129px;width:3px;height:4px;border-right:1px solid #8c8c8c;"></div><div style="position:absolute;left:582px;top:132px;width:1px;height:1px;background:#999"></div>
<div style="position:absolute;left:582px;top:149px;width:3px;height:4px;border-right:1px solid #8c8c8c;"></div><div style="position:absolute;left:582px;top:152px;width:1px;height:1px;background:#999"></div>
<div style="position:absolute;left:582px;top:169px;width:3px;height:4px;border-right:1px solid #8c8c8c;"></div><div style="position:absolute;left:582px;top:172px;width:1px;height:1px;background:#999"></div>
<div style="position:absolute;left:582px;top:188px;width:3px;height:4px;border-right:1px solid #8c8c8c;"></div><div style="position:absolute;left:582px;top:191px;width:1px;height:1px;background:#999"></div>
<div style="position:absolute;left:582px;top:624px;width:3px;height:4px;border-right:1px solid #8c8c8c;"></div><div style="position:absolute;left:582px;top:627px;width:1px;height:1px;background:#999"></div>
<div style="position:absolute;left:582px;top:642.7px;width:3px;height:4px;border-right:1px solid #8c8c8c;"></div><div style="position:absolute;left:582px;top:645.7px;width:1px;height:1px;background:#999"></div>
<div style="position:absolute;left:582px;top:660.7px;width:3px;height:4px;border-right:1px solid #8c8c8c;"></div><div style="position:absolute;left:582px;top:663.7px;width:1px;height:1px;background:#999"></div>
<div style="position:absolute;left:582px;top:680px;width:3px;height:4px;border-right:1px solid #8c8c8c;"></div><div style="position:absolute;left:582px;top:683px;width:1px;height:1px;background:#999"></div>
<div style="position:absolute;left:582px;top:699.2px;width:3px;height:4px;border-right:1px solid #8c8c8c;"></div><div style="position:absolute;left:582px;top:702.2px;width:1px;height:1px;background:#999"></div>
<div style="position:absolute;left:582px;top:717.8px;width:3px;height:4px;border-right:1px solid #8c8c8c;"></div><div style="position:absolute;left:582px;top:720.8px;width:1px;height:1px;background:#999"></div>
<div style="position:absolute;left:582px;top:737px;width:3px;height:4px;border-right:1px solid #8c8c8c;"></div><div style="position:absolute;left:582px;top:740px;width:1px;height:1px;background:#999"></div>
<div style="position:absolute;left:582px;top:756px;width:3px;height:4px;border-right:1px solid #8c8c8c;"></div><div style="position:absolute;left:582px;top:759px;width:1px;height:1px;background:#999"></div>
<div style="position:absolute;left:582px;top:774.7px;width:3px;height:4px;border-right:1px solid #8c8c8c;"></div><div style="position:absolute;left:582px;top:777.7px;width:1px;height:1px;background:#999"></div>
<div style="position:absolute;left:582px;top:792.9px;width:3px;height:4px;border-right:1px solid #8c8c8c;"></div><div style="position:absolute;left:582px;top:795.9px;width:1px;height:1px;background:#999"></div>
<div style="position:absolute;left:1231px;top:89.4px;width:3px;height:4px;border-right:1px solid #8c8c8c;"></div><div style="position:absolute;left:1231px;top:92.4px;width:1px;height:1px;background:#999"></div>
<div style="position:absolute;left:1231px;top:158.9px;width:3px;height:4px;border-right:1px solid #8c8c8c;"></div><div style="position:absolute;left:1231px;top:161.9px;width:1px;height:1px;background:#999"></div>
<div style="position:absolute;left:1231px;top:178.7px;width:3px;height:4px;border-right:1px solid #8c8c8c;"></div><div style="position:absolute;left:1231px;top:181.7px;width:1px;height:1px;background:#999"></div>
<div class="t " style="left:1131px;top:763.6px;font-size:9px;line-height:10px;color:#777;">↵</div>
<div style="position:absolute;left:1141px;top:782px;width:3px;height:4px;border-right:1px solid #8c8c8c;"></div><div style="position:absolute;left:1141px;top:785px;width:1px;height:1px;background:#999"></div>
<div style="position:absolute;left:1140px;top:306px;width:3px;height:4px;border-right:1px solid #8c8c8c;"></div><div style="position:absolute;left:1140px;top:309px;width:1px;height:1px;background:#999"></div>
<div style="position:absolute;left:800.5px;top:290.5px;width:4px;height:4px;border:1px solid #333;border-radius:50%"></div>
<div style="position:absolute;left:811px;top:290px;width:3px;height:4px;border-right:1px solid #8c8c8c;"></div><div style="position:absolute;left:811px;top:293px;width:1px;height:1px;background:#999"></div>
</body></html>
